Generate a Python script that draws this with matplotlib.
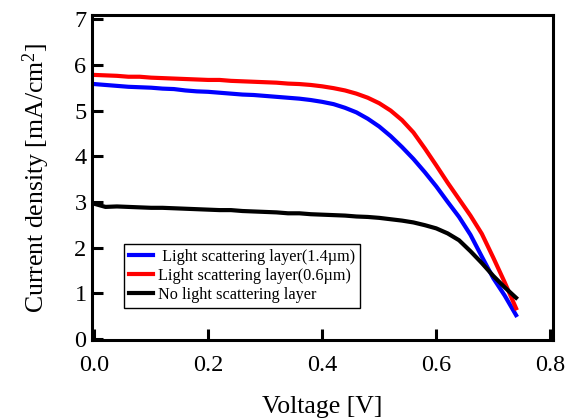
import matplotlib
matplotlib.use("Agg")
import matplotlib.pyplot as plt

# --- DATA ---
voltage = [0.00, 0.02, 0.04, 0.06, 0.08, 0.10, 0.12, 0.14, 0.16, 0.18,
           0.20, 0.22, 0.24, 0.26, 0.28, 0.30, 0.32, 0.34, 0.36, 0.38,
           0.40, 0.42, 0.44, 0.46, 0.48, 0.50, 0.52, 0.54, 0.56, 0.58,
           0.60, 0.62, 0.64, 0.66, 0.68, 0.70, 0.72, 0.74]

j_scatter_14 = [5.58, 5.56, 5.54, 5.52, 5.51, 5.50, 5.48, 5.47, 5.44, 5.42,
                5.41, 5.39, 5.37, 5.35, 5.34, 5.32, 5.30, 5.28, 5.26, 5.23,
                5.19, 5.14, 5.06, 4.96, 4.82, 4.65, 4.44, 4.20, 3.94, 3.65,
                3.34, 3.00, 2.67, 2.28, 1.80, 1.33, 0.95, 0.52]

j_scatter_06 = [5.78, 5.77, 5.76, 5.74, 5.74, 5.72, 5.71, 5.70, 5.69, 5.68,
                5.67, 5.67, 5.65, 5.64, 5.63, 5.62, 5.61, 5.59, 5.58, 5.56,
                5.53, 5.49, 5.44, 5.37, 5.28, 5.16, 5.00, 4.79, 4.52, 4.17,
                3.80, 3.42, 3.06, 2.70, 2.30, 1.78, 1.24, 0.67]

j_no_scatter = [2.96, 2.89, 2.90, 2.89, 2.88, 2.87, 2.87, 2.86, 2.85, 2.84,
                2.83, 2.82, 2.82, 2.80, 2.79, 2.78, 2.77, 2.75, 2.75, 2.73,
                2.72, 2.71, 2.70, 2.68, 2.67, 2.65, 2.62, 2.59, 2.55, 2.49,
                2.42, 2.31, 2.16, 1.92, 1.66, 1.38, 1.13, 0.90]

labels = [" Light scattering layer(1.4µm)",
          "Light scattering layer(0.6µm)",
          "No light scattering layer"]
x_ticks = [0.0, 0.2, 0.4, 0.6, 0.8]
y_ticks = [0, 1, 2, 3, 4, 5, 6, 7]

plt.rcParams['font.family'] = ['Liberation Serif', 'DejaVu Serif']
plt.rcParams['mathtext.default'] = 'regular'

fig = plt.figure(figsize=(5.65, 4.19), dpi=100)
ax = fig.add_axes([0.163, 0.189, 0.816, 0.775])

ax.plot(voltage, j_scatter_14, color='#0000ff', lw=3, label=labels[0])
ax.plot(voltage, j_scatter_06, color='#ff0000', lw=3, label=labels[1])
ax.plot(voltage, j_no_scatter, color='black', lw=3, label=labels[2])

ax.set_xlim(-0.0035, 0.805)
ax.set_ylim(-0.02, 7.09)
ax.set_xticks(x_ticks)
ax.set_xticklabels([f"{v:.1f}" for v in x_ticks])
ax.set_yticks(y_ticks)

for s in ax.spines.values():
    s.set_linewidth(2.2)
ax.tick_params(direction='in', length=8, width=2.2, labelsize=17.5,
               top=False, right=False)
ax.tick_params(axis='x', pad=11)
ax.tick_params(axis='y', pad=4)

ax.set_xlabel("Voltage [V]", fontsize=18.5, labelpad=14)
ax.set_ylabel("Current density [mA/cm$^{2}$]", fontsize=18.5, labelpad=16)

leg = ax.legend(loc='lower left', bbox_to_anchor=(0.069, 0.098),
                borderaxespad=0, fontsize=11.7, fancybox=False,
                edgecolor='black', framealpha=1, handlelength=1.5,
                handletextpad=0.3, labelspacing=0.2, borderpad=0.3)
leg.get_frame().set_linewidth(1.0)

fig.savefig("out.png", dpi=100)
